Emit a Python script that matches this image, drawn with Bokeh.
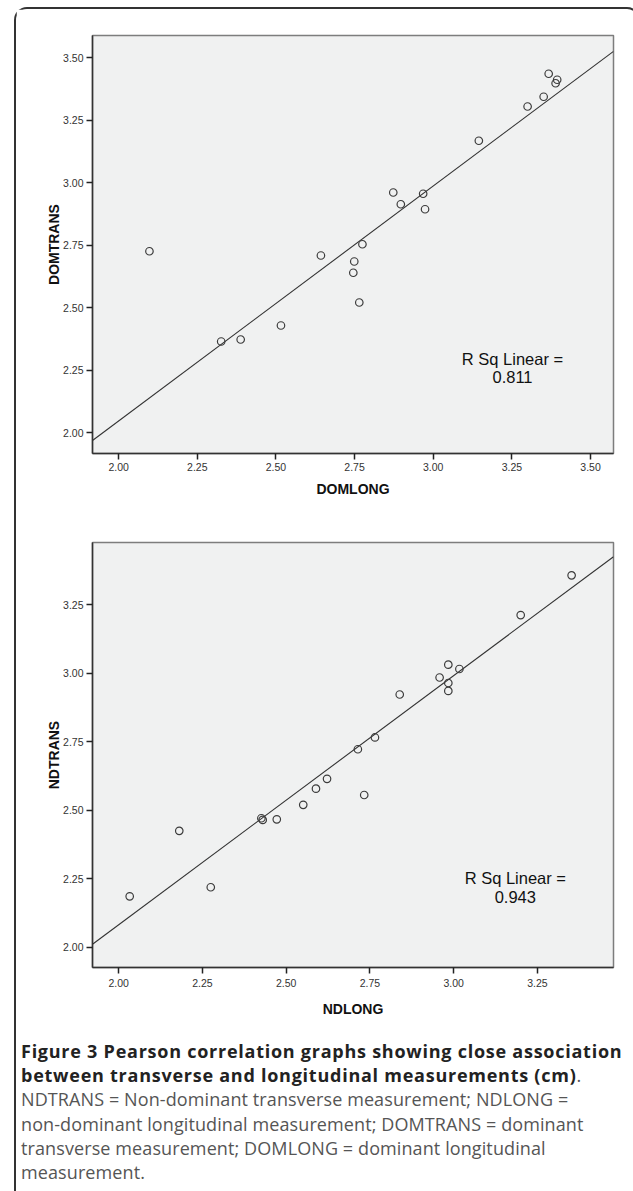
from bokeh.plotting import figure
from bokeh.models import Range1d, FixedTicker, PrintfTickFormatter, Div, Label
from bokeh.layouts import column
from bokeh.embed import file_html
from bokeh.resources import INLINE

# ---------------- data ----------------
dom_long = [2.098, 2.326, 2.388, 2.516, 2.643, 2.749, 2.746, 2.775, 2.765, 2.873,
            2.897, 2.968, 2.974, 3.145, 3.300, 3.351, 3.367, 3.394, 3.389]
dom_trans = [2.726, 2.365, 2.373, 2.429, 2.709, 2.685, 2.640, 2.754, 2.521, 2.961,
             2.914, 2.956, 2.894, 3.168, 3.305, 3.344, 3.436, 3.412, 3.398]
dom_fit = {"slope": 0.94, "intercept": 0.167}
dom_r2 = "0.811"

nd_long = [2.033, 2.181, 2.275, 2.426, 2.430, 2.472, 2.551, 2.589, 2.622, 2.714,
           2.733, 2.765, 2.839, 2.958, 2.984, 2.984, 2.984, 3.017, 3.200, 3.352]
nd_trans = [2.186, 2.425, 2.219, 2.471, 2.465, 2.467, 2.520, 2.579, 2.615, 2.723,
            2.556, 2.766, 2.923, 2.985, 3.032, 2.965, 2.936, 3.016, 3.213, 3.358]
nd_fit = {"slope": 0.91, "intercept": 0.262}
nd_r2 = "0.943"

dom_x_ticks = [2.00, 2.25, 2.50, 2.75, 3.00, 3.25, 3.50]
dom_y_ticks = [2.00, 2.25, 2.50, 2.75, 3.00, 3.25, 3.50]
nd_x_ticks = [2.00, 2.25, 2.50, 2.75, 3.00, 3.25]
nd_y_ticks = [2.00, 2.25, 2.50, 2.75, 3.00, 3.25]

AX_FONT = "Liberation Sans"


def make_chart(xs, ys, fit, r2, xlab, ylab, xr, yr, xticks, yticks,
               rpos, height, mbt, mbb, lab_standoff, title_standoff):
    p = figure(width=612, height=height, x_range=Range1d(*xr), y_range=Range1d(*yr),
               output_backend="svg", toolbar_location=None,
               min_border_left=76, min_border_right=15,
               min_border_top=mbt, min_border_bottom=mbb)
    p.background_fill_color = "#f0f1f1"
    p.border_fill_color = "white"
    p.grid.visible = False
    p.outline_line_color = "#7d7d7d"
    p.outline_line_width = 1.5

    for ax, ticks, lab in ((p.xaxis[0], xticks, xlab), (p.yaxis[0], yticks, ylab)):
        ax.ticker = FixedTicker(ticks=ticks)
        ax.formatter = PrintfTickFormatter(format="%.2f")
        ax.minor_tick_line_color = None
        ax.major_tick_in = 0
        ax.major_tick_out = 6
        ax.major_tick_line_color = "#222222"
        ax.major_tick_line_width = 1.5
        ax.axis_line_color = "#333333"
        ax.axis_line_width = 1.5
        ax.major_label_text_font = AX_FONT
        ax.major_label_text_font_size = "10.5px"
        ax.major_label_text_color = "#333333"
        ax.axis_label = lab
        ax.axis_label_text_font = AX_FONT
        ax.axis_label_text_font_size = "14px"
        ax.axis_label_text_font_style = "bold"
        ax.axis_label_text_color = "#111111"
    p.xaxis.major_label_standoff = lab_standoff
    p.yaxis.major_label_standoff = 3
    p.xaxis.axis_label_standoff = title_standoff
    p.yaxis.axis_label_standoff = -2

    lx = [xr[0], xr[1]]
    ly = [fit["intercept"] + fit["slope"] * v for v in lx]
    p.line(lx, ly, line_color="#333333", line_width=1.1)
    p.scatter(xs, ys, marker="circle", size=7.5, fill_color=None,
              line_color="#3c3c3c", line_width=1.2)

    p.add_layout(Label(x=rpos[0], y=rpos[1], text="R Sq Linear =", text_align="center",
                       text_baseline="middle", text_font=AX_FONT,
                       text_font_size="16.5px", text_color="#111111"))
    p.add_layout(Label(x=rpos[0], y=rpos[2], text=r2, text_align="center",
                       text_baseline="middle", text_font=AX_FONT,
                       text_font_size="16.5px", text_color="#111111"))
    return p


p1 = make_chart(dom_long, dom_trans, dom_fit, dom_r2, "DOMLONG", "DOMTRANS",
                (1.917, 3.573), (1.917, 3.589), dom_x_ticks, dom_y_ticks,
                (3.252, 2.297, 2.222), 505, 26, 61, 3, 7)
p2 = make_chart(nd_long, nd_trans, nd_fit, nd_r2, "NDLONG", "NDTRANS",
                (1.922, 3.477), (1.926, 3.478), nd_x_ticks, nd_y_ticks,
                (3.184, 2.252, 2.182), 507, 28, 54, 5, 11)

caption_html = (
    "<div style=\"font-family:'Open Sans';font-size:18px;line-height:24.2px;"
    "color:#555555;padding-top:13px;padding-left:0px;white-space:nowrap;letter-spacing:0.1px;\">"
    "<span style='font-weight:bold;color:#222222;letter-spacing:0.75px'>"
    "Figure 3 Pearson correlation graphs showing close association<br>"
    "between transverse and longitudinal measurements (cm)</span>.<br>"
    "NDTRANS = Non-dominant transverse measurement; NDLONG =<br>"
    "non-dominant longitudinal measurement; DOMTRANS = dominant<br>"
    "transverse measurement; DOMLONG = dominant longitudinal<br>"
    "measurement.</div>"
)
cap = Div(text=caption_html, width=612, height=168)

layout = column(p1, p2, cap, spacing=0, margin=(7, 0, 0, 14),
                styles={"border": "2px solid #333333", "border-bottom": "none",
                        "border-radius": "13px 13px 0 0"})

open("out.html", "w").write(file_html(layout, INLINE))
